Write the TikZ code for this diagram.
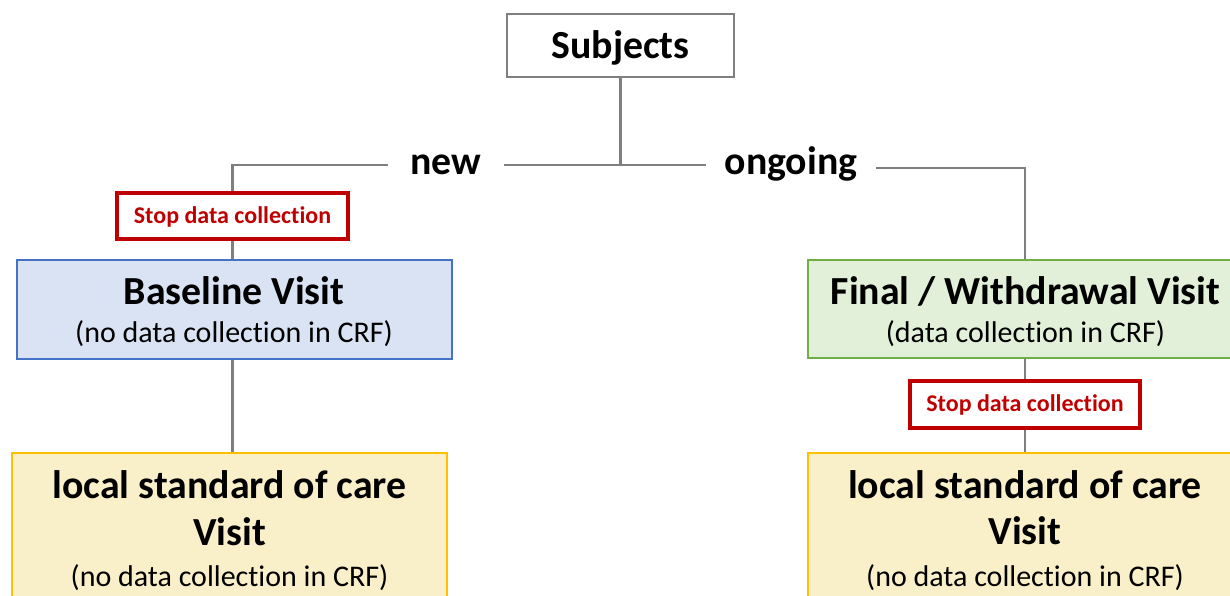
\documentclass[tikz,border=0pt]{standalone}
\usepackage{fontspec}
\setmainfont{Carlito}[Ligatures=NoCommon]
\definecolor{lgray}{HTML}{7F7F7F}
\definecolor{stopred}{HTML}{C00000}
\definecolor{bluefill}{HTML}{DAE3F3}
\definecolor{blueline}{HTML}{4472C4}
\definecolor{greenfill}{HTML}{E2F0D9}
\definecolor{greenline}{HTML}{70AD47}
\definecolor{goldfill}{HTML}{F9EFC9}
\definecolor{goldline}{HTML}{FFC000}
\tikzset{
  conn/.style={draw=lgray, line width=2.2pt},
  stopbox/.style={draw=stopred, line width=3.5pt, fill=white, minimum width=231pt, minimum height=46pt, inner sep=0pt},
  visitbox/.style={line width=2pt, minimum width=435pt, inner sep=0pt},
  bigtxt/.style={font=\fontsize{39.8}{46}\selectfont\bfseries, anchor=base, inner sep=0pt},
  smalltxt/.style={font=\fontsize{30}{34}\selectfont, anchor=base, inner sep=0pt},
  stoptxt/.style={font=\fontsize{24}{28}\selectfont\bfseries, text=stopred, anchor=base, inner sep=0pt}
}
\begin{document}
\begin{tikzpicture}[x=1pt,y=-1pt]
\useasboundingbox (0,0) rectangle (1230,596);
\clip (0,0) rectangle (1230,596);
\fill[white] (0,0) rectangle (1230,596);

% boxes
\node[draw=lgray, line width=2pt, minimum width=227pt, minimum height=63pt, inner sep=0pt] (subj) at (620.5,45.5) {};
\node[bigtxt] (subjt) at (620.5,59) {Subjects};

\node[bigtxt, inner xsep=22pt, inner ysep=0pt] (new) at (446,175) {new};
\node[bigtxt, inner xsep=18pt, inner ysep=0pt] (ongo) at (791,175) {ongoing};

\node[stopbox] (stopL) at (232.5,216) {};
\node[stoptxt] (stopLt) at (232.5,223) {Stop data collection};

\node[visitbox, draw=blueline, fill=bluefill, minimum height=99pt] (base) at (234,309.5) {};
\node[bigtxt] (baset) at (234,304) {Baseline Visit};
\node[smalltxt] (bases) at (234,342) {(no data collection in CRF)};

\node[visitbox, draw=greenline, fill=greenfill, minimum height=98pt] (final) at (1025.5,309) {};
\node[bigtxt] (finalt) at (1025.5,304) {Final / Withdrawal Visit};
\node[smalltxt] (finals) at (1025.5,342) {(data collection in CRF)};

\node[stopbox, minimum width=230pt, minimum height=47pt] (stopR) at (1025,404.5) {};
\node[stoptxt] (stopRt) at (1025,411.5) {Stop data collection};

\node[visitbox, draw=goldline, fill=goldfill, minimum height=187pt] (locL) at (229.5,546.5) {};
\node[bigtxt] (locLa) at (229.5,498) {local standard of care};
\node[bigtxt] (locLb) at (229.5,545) {Visit};
\node[smalltxt] (locLc) at (229.5,586) {(no data collection in CRF)};

\node[visitbox, draw=goldline, fill=goldfill, minimum height=187pt] (locR) at (1025.5,546.5) {};
\node[bigtxt] (locRa) at (1025,498) {local standard of care};
\node[bigtxt] (locRb) at (1025,544) {Visit};
\node[smalltxt] (locRc) at (1025,586) {(no data collection in CRF)};

% connectors
\coordinate (j) at (620.5,165);
\coordinate (jr) at (0,168);
\draw[conn] (subj.south) -- (j);
\draw[conn] (new.east |- j) -- (ongo.west |- j);
\draw[conn] (new.west |- j) -| (stopL.north);
\draw[conn] (stopL.south) -- (stopL.south |- base.north);
\draw[conn] (base.south -| stopL.south) -- (locL.north -| stopL.south);
\draw[conn] (ongo.east |- jr) -| (stopR.north |- final.north);
\draw[conn] (final.south -| stopR.north) -- (stopR.north);
\draw[conn] (stopR.south) -- (stopR.south |- locR.north);
\end{tikzpicture}
\end{document}
